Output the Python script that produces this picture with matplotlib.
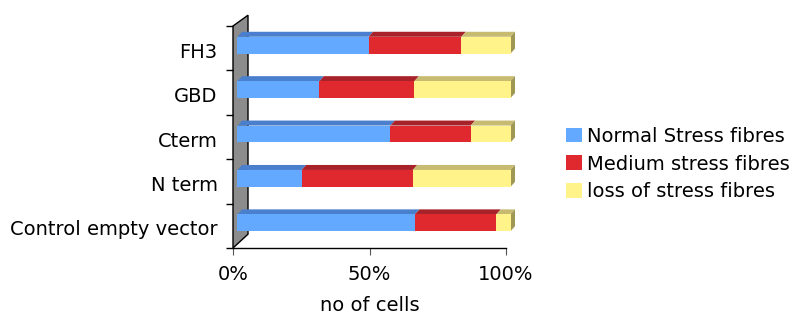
import numpy as np
import matplotlib.pyplot as plt
import matplotlib.transforms as mtransforms
from matplotlib.patches import Polygon, Patch

# Share of cells (%) per construct, stacked left to right
constructs = ['Control empty vector', 'N term', 'Cterm', 'GBD', 'FH3']
normal = [65, 23.5, 56, 30, 48]
medium = [29.8, 40.7, 29.4, 34.8, 34]
loss = [5.2, 35.8, 14.6, 35.2, 18]

series_names = ['Normal Stress fibres', 'Medium stress fibres', 'loss of stress fibres']
front_cols = ['#62a9ff', '#e0282f', '#fff38a']
top_cols = ['#4a7fcd', '#a8222a', '#c6bb70']
side_col = '#9f9854'

plt.rcParams['font.family'] = 'DejaVu Sans'

fig = plt.figure(figsize=(7.94, 3.2), dpi=100)
ax = fig.add_axes([233 / 794, 72 / 320, 273 / 794, 222 / 320])
ax.set_xlim(0, 100)
ax.set_ylim(-0.5, 4.5)

# pixel -> data unit conversion for the fake 3D depth
W = 273.0
H = 222.0
ux = 100 / W
uy = 5 / H
shift_x, shift_y = 4.5 * ux, 3 * uy
dep_x, dep_y = 4.5 * ux, 5 * uy
bar_h = 0.38

# grey back wall on the left
wx, wy = 15 * ux, 12 * uy
wall = Polygon([(0, -0.5), (0, 4.5), (wx, 4.5 + wy * 0.9), (wx, -0.5 + wy * 1.15)],
               closed=True, facecolor='#8c8c8c', edgecolor='black', lw=1.0,
               clip_on=False, zorder=1)
ax.add_patch(wall)

data = np.array([normal, medium, loss])
for i, name in enumerate(constructs):
    yc = i + shift_y
    y0, y1 = yc - bar_h / 2, yc + bar_h / 2
    left = shift_x
    for k in range(3):
        w = data[k][i]
        x0, x1 = left, left + w
        ax.add_patch(Polygon([(x0, y0), (x1, y0), (x1, y1), (x0, y1)], closed=True,
                             facecolor=front_cols[k], edgecolor='none', clip_on=False, zorder=3))
        ax.add_patch(Polygon([(x0, y1), (x1, y1), (x1 + dep_x, y1 + dep_y), (x0 + dep_x, y1 + dep_y)],
                             closed=True, facecolor=top_cols[k], edgecolor='none',
                             clip_on=False, zorder=2))
        left = x1
    ax.add_patch(Polygon([(left, y0), (left, y1), (left + dep_x, y1 + dep_y), (left + dep_x, y0 + dep_y)],
                         closed=True, facecolor=side_col, edgecolor='none', clip_on=False, zorder=2))

for s in ['top', 'right', 'left']:
    ax.spines[s].set_visible(False)
ax.spines['bottom'].set_linewidth(1.0)

ax.set_xticks([0, 50, 100])
ax.set_xticklabels(['0%', '50%', '100%'], fontsize=14)
ax.tick_params(axis='x', direction='out', length=5, width=0.8, pad=7, colors='#555555', labelcolor='black')

ax.set_yticks(range(5))
ax.set_yticklabels(constructs, fontsize=14)
ax.set_yticks(np.arange(-0.5, 5, 1), minor=True)
ax.tick_params(axis='y', which='major', length=0, pad=11)
ax.tick_params(axis='y', which='minor', length=5, width=1.0, direction='out')

# nudge category names down a touch
down = mtransforms.ScaledTranslation(0, -1.5 / 72, fig.dpi_scale_trans)
for lab in ax.get_yticklabels():
    lab.set_transform(lab.get_transform() + down)

ax.set_xlabel('no of cells', fontsize=14, labelpad=9)

handles = [Patch(facecolor=c, edgecolor='none') for c in front_cols]
fig.legend(handles, series_names, loc='center left', bbox_to_anchor=(566 / 794, 156 / 320),
           frameon=False, fontsize=14, handlelength=0.8, handleheight=0.8,
           handletextpad=0.3, labelspacing=0.45, borderpad=0, borderaxespad=0)

fig.savefig('out.png', dpi=100)
